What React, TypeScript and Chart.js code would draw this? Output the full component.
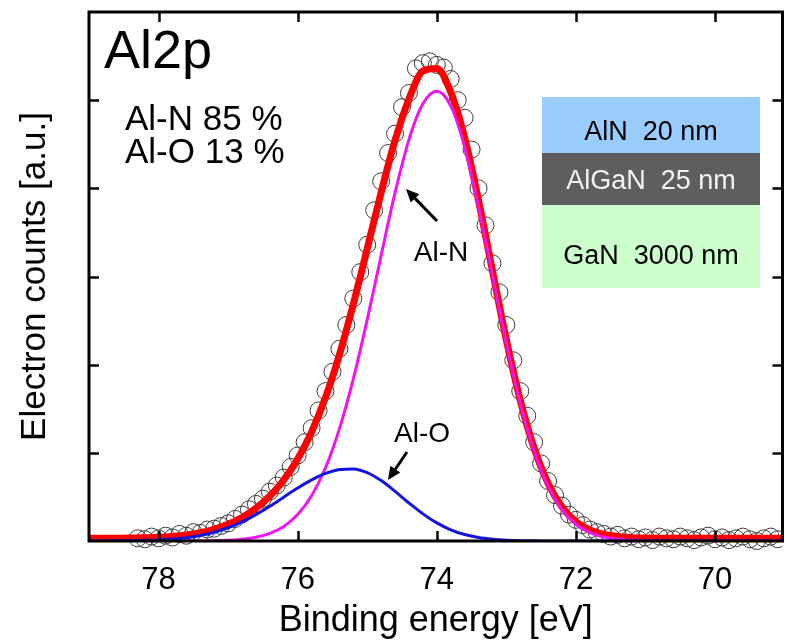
import React, { useEffect, useRef } from "react";
import { Chart, registerables } from "chart.js";
Chart.register(...registerables);

const FONT = "'Liberation Sans', Arial, Helvetica, sans-serif";

// Binding energy grid for fitted curves (eV)
const curveEnergy = [
  79.0, 78.8, 78.6, 78.4, 78.2, 78.0, 77.8, 77.6, 77.4, 77.2,
  77.0, 76.8, 76.6, 76.4, 76.2, 76.0, 75.8, 75.6, 75.4, 75.2,
  75.0, 74.8, 74.6, 74.4, 74.2, 74.0, 73.8, 73.6, 73.4, 73.2,
  73.0, 72.8, 72.6, 72.4, 72.2, 72.0, 71.8, 71.6, 71.4, 71.2,
  71.0, 70.8, 70.6, 70.4, 70.2, 70.0, 69.8, 69.6, 69.4, 69.2, 69.0,
];
// Red: total fit envelope
const fitTotal = [
  0.030, 0.031, 0.032, 0.033, 0.037, 0.042, 0.052, 0.068, 0.094, 0.133,
  0.189, 0.267, 0.371, 0.510, 0.692, 0.930, 1.237, 1.627, 2.112, 2.686,
  3.317, 3.955, 4.544, 5.014, 5.330, 5.360, 5.092, 4.575, 3.863, 3.064,
  2.281, 1.596, 1.050, 0.653, 0.386, 0.220, 0.126, 0.075, 0.050, 0.038,
  0.033, 0.031, 0.030, 0.030, 0.030, 0.030, 0.030, 0.030, 0.030, 0.030, 0.030,
];
// Magenta: Al-N component
const alN = [
  0, 0, 0, 0, 0, 0, 0, 0, 0.001, 0.003,
  0.009, 0.020, 0.042, 0.086, 0.165, 0.300, 0.514, 0.831, 1.272, 1.838,
  2.511, 3.240, 3.951, 4.553, 4.958, 5.100, 4.935, 4.472, 3.794, 3.014,
  2.242, 1.562, 1.018, 0.622, 0.356, 0.190, 0.096, 0.045, 0.020, 0.008,
  0.003, 0.001, 0, 0, 0, 0, 0, 0, 0, 0, 0,
];
// Blue: Al-O component
const alO = [
  0, 0.001, 0.002, 0.003, 0.007, 0.012, 0.022, 0.038, 0.063, 0.100,
  0.150, 0.217, 0.299, 0.394, 0.497, 0.600, 0.693, 0.766, 0.810, 0.818,
  0.776, 0.685, 0.563, 0.431, 0.308, 0.205, 0.127, 0.073, 0.039, 0.020,
  0.009, 0.004, 0.002, 0.001, 0, 0, 0, 0, 0, 0,
  0, 0, 0, 0, 0, 0, 0, 0, 0, 0, 0,
];
// Measured points (open circles)
const dataEnergy = [
  78.3, 78.2, 78.1, 78.0, 77.9, 77.8, 77.7, 77.6, 77.5, 77.4,
  77.3, 77.2, 77.1, 77.0, 76.9, 76.8, 76.7, 76.6, 76.5, 76.4,
  76.3, 76.2, 76.1, 76.0, 75.9, 75.8, 75.7, 75.6, 75.5, 75.4,
  75.3, 75.2, 75.1, 75.0, 74.9, 74.8, 74.7, 74.6, 74.5, 74.4,
  74.3, 74.2, 74.1, 74.0, 73.9, 73.8, 73.7, 73.6, 73.5, 73.4,
  73.3, 73.2, 73.1, 73.0, 72.9, 72.8, 72.7, 72.6, 72.5, 72.4,
  72.3, 72.2, 72.1, 72.0, 71.9, 71.8, 71.7, 71.6, 71.5, 71.4,
  71.3, 71.2, 71.1, 71.0, 70.9, 70.8, 70.7, 70.6, 70.5, 70.4,
  70.3, 70.2, 70.1, 70.0, 69.9, 69.8, 69.7, 69.6, 69.5, 69.4,
  69.3, 69.2, 69.1,
];
const dataCounts = [
  0.03, 0.02, 0.05, 0.03, 0.06, 0.04, 0.08, 0.06, 0.10, 0.09,
  0.13, 0.14, 0.17, 0.20, 0.25, 0.30, 0.36, 0.42, 0.48, 0.56,
  0.63, 0.72, 0.84, 0.97, 1.12, 1.28, 1.48, 1.70, 1.92, 2.18,
  2.45, 2.75, 3.05, 3.36, 3.75, 4.08, 4.40, 4.62, 4.92, 5.08,
  5.36, 5.42, 5.44, 5.40, 5.37, 5.24, 5.00, 4.80, 4.44, 4.00,
  3.58, 3.15, 2.82, 2.45, 2.05, 1.70, 1.42, 1.12, 0.88, 0.68,
  0.52, 0.40, 0.30, 0.24, 0.18, 0.13, 0.10, 0.08, 0.05, 0.07,
  0.03, 0.05, 0.02, 0.04, 0.01, 0.05, 0.03, 0.02, 0.05, 0.03,
  0.01, 0.04, 0.06, 0.02, 0.04, 0.01, 0.03, 0.05, 0.02, 0.00,
  0.03, 0.05, 0.02,
];
const xTicks = [78, 76, 74, 72, 70];
const yTicks = [1, 2, 3, 4, 5];
const layers = [
  { label: "AlN  20 nm", fill: "#99ccff", text: "#000000" },
  { label: "AlGaN  25 nm", fill: "#5e5e5e", text: "#f2f2f2" },
  { label: "GaN  3000 nm", fill: "#ccffcc", text: "#000000" },
];

function arrow(ctx: CanvasRenderingContext2D, x1: number, y1: number, x2: number, y2: number) {
  const ang = Math.atan2(y2 - y1, x2 - x1);
  const head = 13;
  const half = 6;
  const bx = x2 - head * Math.cos(ang);
  const by = y2 - head * Math.sin(ang);
  ctx.lineWidth = 3;
  ctx.strokeStyle = "#000";
  ctx.beginPath();
  ctx.moveTo(x1, y1);
  ctx.lineTo(bx, by);
  ctx.stroke();
  ctx.fillStyle = "#000";
  ctx.beginPath();
  ctx.moveTo(x2, y2);
  ctx.lineTo(bx + half * Math.sin(ang), by - half * Math.cos(ang));
  ctx.lineTo(bx - half * Math.sin(ang), by + half * Math.cos(ang));
  ctx.closePath();
  ctx.fill();
}

const overlay = {
  id: "overlay",
  afterDatasetsDraw(chart: any) {
    const { ctx, chartArea: a, scales } = chart;
    const xs = scales.x;
    const ys = scales.y;
    ctx.save();
    // frame
    ctx.strokeStyle = "#000";
    ctx.lineWidth = 3;
    ctx.strokeRect(a.left, a.top, a.right - a.left, a.bottom - a.top);
    // inward ticks
    ctx.lineWidth = 2.5;
    ctx.beginPath();
    for (const v of xTicks) {
      const px = Math.round(xs.getPixelForValue(v)) + 0.5;
      ctx.moveTo(px, a.bottom);
      ctx.lineTo(px, a.bottom - 10);
      ctx.moveTo(px, a.top);
      ctx.lineTo(px, a.top + 10);
    }
    for (const v of yTicks) {
      const py = Math.round(ys.getPixelForValue(v)) + 0.5;
      ctx.moveTo(a.left, py);
      ctx.lineTo(a.left + 10, py);
      ctx.moveTo(a.right, py);
      ctx.lineTo(a.right - 10, py);
    }
    ctx.stroke();

    // texts
    ctx.fillStyle = "#000";
    ctx.textBaseline = "alphabetic";
    ctx.textAlign = "left";
    ctx.font = `54px ${FONT}`;
    ctx.fillText("Al2p", 104, 68);
    ctx.font = `35px ${FONT}`;
    ctx.fillText("Al-N 85 %", 125, 130);
    ctx.fillText("Al-O 13 %", 125, 163);

    // inset stack
    const bx = 542, bw = 218;
    const rows = [
      { y: 97, h: 56, base: 140 },
      { y: 153, h: 52, base: 189 },
      { y: 205, h: 83, base: 264 },
    ];
    ctx.textAlign = "center";
    ctx.font = `27px ${FONT}`;
    layers.forEach((l, i) => {
      const r = rows[i];
      ctx.fillStyle = l.fill;
      ctx.fillRect(bx, r.y, bw, r.h);
      ctx.fillStyle = l.text;
      ctx.fillText(l.label, bx + bw / 2, r.base);
    });

    // peak labels
    ctx.fillStyle = "#000";
    ctx.font = `28px ${FONT}`;
    ctx.fillText("Al-N", 441, 261);
    ctx.fillText("Al-O", 422, 442);
    arrow(ctx, 437, 221, 406, 189);
    arrow(ctx, 407, 452, 388, 480);
    ctx.restore();
  },
};

export default function App() {
  const ref = useRef<HTMLCanvasElement>(null);
  useEffect(() => {
    const canvas = ref.current;
    if (!canvas) return;
    const pts = (xs: number[], ys: number[]) => xs.map((x, i) => ({ x, y: ys[i] }));
    const chart = new Chart(canvas, {
      type: "line",
      data: {
        datasets: [
          {
            label: "Al-O",
            data: pts(curveEnergy, alO),
            borderColor: "#1414e0",
            borderWidth: 3,
            pointRadius: 0,
            cubicInterpolationMode: "monotone",
            order: 0,
          },
          {
            label: "Al-N",
            data: pts(curveEnergy, alN),
            borderColor: "#f014f0",
            borderWidth: 3,
            pointRadius: 0,
            cubicInterpolationMode: "monotone",
            order: 1,
          },
          {
            label: "Fit",
            data: pts(curveEnergy, fitTotal),
            borderColor: "#ff0000",
            borderWidth: 7,
            pointRadius: 0,
            cubicInterpolationMode: "monotone",
            order: 2,
          },
          {
            label: "Data",
            data: pts(dataEnergy, dataCounts),
            showLine: false,
            pointRadius: 8.5,
            pointStyle: "circle",
            pointBorderColor: "#3c3c3c",
            pointBackgroundColor: "rgba(0,0,0,0)",
            pointBorderWidth: 1,
            clip: { left: 0, top: 0, right: 0, bottom: 12 },
            order: 3,
          },
        ] as any,
      },
      options: {
        animation: false,
        responsive: false,
        maintainAspectRatio: false,
        layout: { padding: { top: 12, right: 2, left: 0, bottom: 0 } },
        plugins: { legend: { display: false }, tooltip: { enabled: false } },
        scales: {
          x: {
            type: "linear",
            reverse: true,
            min: 69.03,
            max: 79.0,
            afterBuildTicks: (s: any) => {
              s.ticks = xTicks.map((v) => ({ value: v }));
            },
            afterFit: (s: any) => {
              s.height = 103;
            },
            grid: { display: false, drawTicks: false },
            border: { display: false },
            ticks: {
              color: "#000",
              font: { family: FONT, size: 31 },
              padding: 21,
              maxRotation: 0,
              autoSkip: false,
              callback: (v: any) => String(v),
            },
            title: {
              display: true,
              text: "Binding energy [eV]",
              color: "#000",
              font: { family: FONT, size: 36 },
              padding: { top: 0, bottom: 1 },
            },
          },
          y: {
            type: "linear",
            min: 0,
            max: 6,
            afterFit: (s: any) => {
              s.width = 89;
            },
            grid: { display: false, drawTicks: false },
            border: { display: false },
            ticks: { display: false },
            title: {
              display: true,
              text: "Electron counts [a.u.]",
              color: "#000",
              font: { family: FONT, size: 35 },
              padding: { top: 14, bottom: 0 },
            },
          },
        },
      } as any,
      plugins: [overlay],
    });
    return () => chart.destroy();
  }, []);
  return (
    <div style={{ position: "fixed", left: 0, top: 0, width: 792, height: 644, background: "#fff" }}>
      <canvas ref={ref} width={792} height={644} style={{ display: "block", width: 792, height: 644 }} />
    </div>
  );
}
